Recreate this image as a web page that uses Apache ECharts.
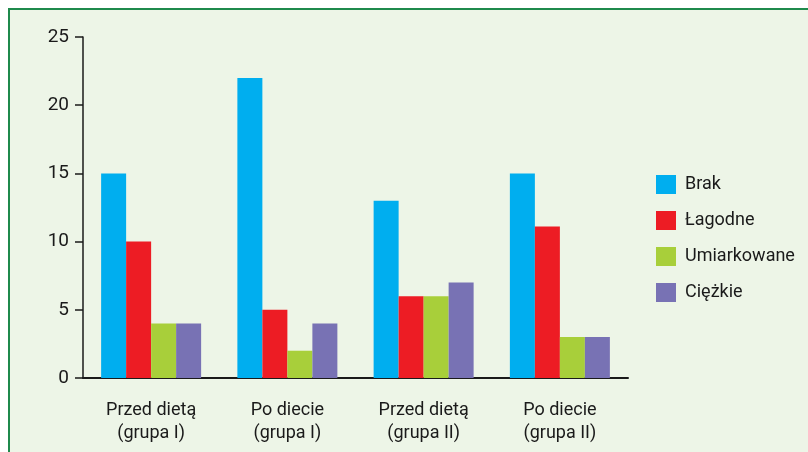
<!DOCTYPE html>
<html>
<head>
<meta charset="utf-8">
<script src="https://cdn.jsdelivr.net/npm/echarts@6/dist/echarts.min.js"></script>
<style>
  html, body { margin: 0; padding: 0; background: #ffffff; }
  #frame { position: absolute; left: 8px; top: 8px; width: 820px; height: 460px; background: #edf5e7; border-top: 2px solid #1f8a4c; border-left: 2px solid #1f8a4c; box-sizing: border-box; }
  #chart { position: absolute; left: 0; top: 0; width: 808px; height: 452px; }
</style>
</head>
<body>
<div id="frame"></div>
<div id="chart"></div>
<script>
const categories = ['Przed dietą\n(grupa I)', 'Po diecie\n(grupa I)', 'Przed dietą\n(grupa II)', 'Po diecie\n(grupa II)'];
const seriesNames = ['Brak', 'Łagodne', 'Umiarkowane', 'Ciężkie'];
const brak = [15, 22, 13, 15];
const lagodne = [10, 5, 6, 11.1];
const umiarkowane = [4, 2, 6, 3];
const ciezkie = [4, 4, 7, 3];
const yTicks = [0, 5, 10, 15, 20, 25];
const colors = ['#00aeef', '#ed1c24', '#a8cf3a', '#7872b4'];

const FONT = "Roboto, 'Liberation Sans Narrow', sans-serif";
const values = [brak, lagodne, umiarkowane, ciezkie];

const chart = echarts.init(document.getElementById('chart'), null, { renderer: 'canvas' });
chart.setOption({
  backgroundColor: 'transparent',
  animation: false,
  color: colors,
  grid: { left: 83, right: 180, top: 37, bottom: 74, containLabel: false },
  legend: {
    orient: 'vertical',
    left: 651, top: 170,
    itemWidth: 20, itemHeight: 19, itemGap: 17,
    icon: 'rect',
    textStyle: { fontFamily: FONT, fontSize: 18, color: '#1a1a1a', padding: [0, 0, 0, 4] },
    data: seriesNames
  },
  xAxis: {
    type: 'category',
    data: categories,
    axisLine: { lineStyle: { color: '#1a1a1a', width: 2 } },
    axisTick: { show: false },
    axisLabel: { fontFamily: FONT, fontSize: 18, color: '#1a1a1a', lineHeight: 23, margin: 21, interval: 0 }
  },
  yAxis: {
    type: 'value',
    min: 0, max: 25, interval: 5,
    splitLine: { show: false },
    axisLine: { show: true, lineStyle: { color: '#1a1a1a', width: 1.5 } },
    axisTick: { show: true, length: 8, lineStyle: { color: '#1a1a1a', width: 1.5 } },
    axisLabel: { fontFamily: FONT, fontSize: 19, color: '#1a1a1a', margin: 14,
      formatter: v => yTicks.includes(v) ? String(v) : '' }
  },
  series: seriesNames.map((n, i) => ({
    name: n, type: 'bar', data: values[i], barWidth: 25, barGap: '0%'
  }))
});
</script>
</body>
</html>
